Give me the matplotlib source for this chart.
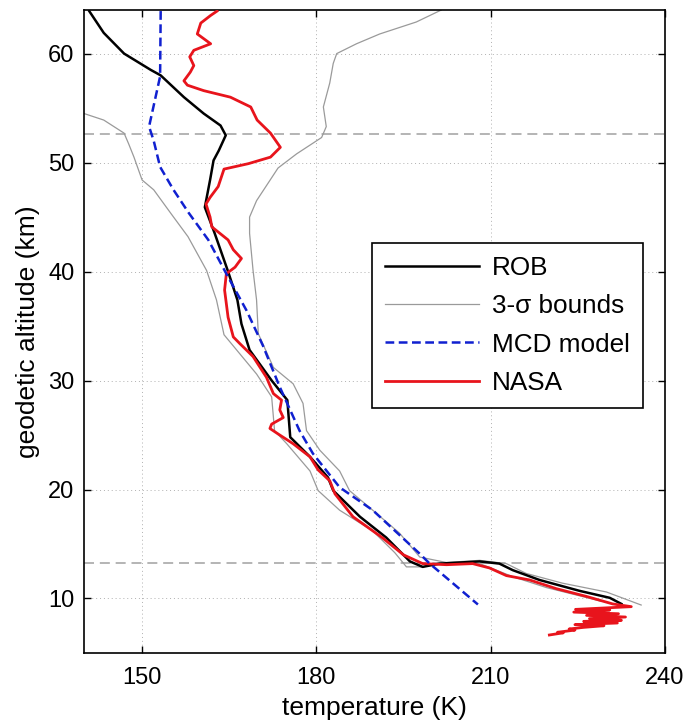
import numpy as np
import matplotlib.pyplot as plt
from matplotlib.lines import Line2D

plt.rcParams['font.family'] = ['Liberation Sans', 'DejaVu Sans']

# ROB retrieved profile (temperature K, altitude km)
rob_T = [140.9, 143.4, 146.9, 151.5, 153.2, 157.2, 160.6, 163.5, 164.4, 163.2, 162.3,
         161.7, 160.8, 162.5, 164.8, 166.4, 167.1, 168.5, 172.3, 175.0, 175.5, 178.9,
         182.0, 182.9, 187.5, 192.0, 196.1, 198.3, 201.2, 208.1, 211.5, 213.8, 218.4,
         225.3, 230.5, 232.5]
rob_z = [63.9, 61.9, 60.0, 58.5, 58.0, 56.0, 54.5, 53.4, 52.5, 51.1, 50.2,
         48.4, 45.9, 43.5, 40.0, 37.4, 35.2, 32.8, 30.0, 28.2, 24.8, 23.0,
         21.1, 19.9, 17.5, 15.6, 13.4, 12.9, 13.2, 13.4, 13.2, 12.6, 11.7,
         10.7, 10.06, 9.5]

# 3-sigma bounds, cold side
lo_T = [138.0, 140.0, 143.4, 146.9, 147.7, 148.6, 150.0, 152.0, 155.0, 157.9, 161.1,
        162.8, 164.1, 169.7, 172.3, 172.8, 174.9, 178.9, 180.3, 184.0, 189.7, 193.5,
        195.5, 198.3, 200.6, 208.1, 213.8, 219.6, 226.4, 229.0]
lo_z = [55.0, 54.5, 53.9, 52.7, 51.7, 50.5, 48.4, 47.5, 45.3, 43.2, 40.1,
        37.4, 34.2, 30.6, 28.5, 25.4, 24.2, 21.7, 19.9, 18.1, 16.2, 14.2,
        12.9, 12.9, 13.2, 13.2, 12.0, 11.0, 10.1, 9.75]

# 3-sigma bounds, warm side
hi_T = [201.5, 197.2, 190.9, 186.9, 183.5, 182.9, 182.3, 181.2, 181.7, 180.9, 176.6,
        173.4, 169.7, 168.5, 168.5, 169.1, 169.7, 170.0, 172.6, 176.0, 177.7, 178.3,
        180.6, 184.0, 185.7, 189.7, 194.3, 197.8, 202.4, 208.1, 212.7, 216.1, 222.4,
        229.9, 235.9]
hi_z = [64.0, 62.9, 61.8, 60.9, 60.0, 59.1, 57.3, 55.1, 53.3, 52.3, 50.8,
        49.5, 46.5, 45.0, 43.5, 40.1, 37.4, 34.3, 31.2, 29.7, 27.9, 25.4,
        23.6, 21.7, 19.9, 18.1, 16.0, 13.8, 13.3, 13.5, 13.2, 12.3, 11.4,
        10.6, 9.4]

# MCD model
mcd_T = [153.2, 153.1, 151.2, 152.0, 153.1, 155.4, 158.0, 161.4, 164.5, 168.0, 170.8,
         173.7, 177.1, 179.4, 184.0, 189.7, 197.8, 199.5, 207.8]
mcd_z = [63.9, 57.9, 53.3, 52.0, 49.6, 47.5, 45.4, 42.9, 39.8, 36.4, 33.2,
         29.4, 25.4, 23.3, 20.2, 18.1, 14.1, 13.2, 9.45]

# NASA profile
nasa_T = [162.9, 161.8, 160.1, 159.5, 161.8, 158.9, 158.2, 158.9, 158.3, 157.2, 157.8,
          160.6, 165.2, 168.7, 169.8, 172.1, 173.8, 172.1, 168.3, 164.1, 163.1, 161.7,
          161.0, 161.7, 162.0, 164.8, 165.7, 167.1, 166.0, 164.5, 164.2, 164.8, 165.7,
          166.8, 169.1, 171.4, 172.6, 174.0, 173.7, 174.3, 172.3, 172.0, 173.4, 176.0,
          178.9, 180.3, 182.3, 183.2, 186.3, 191.3, 195.0, 198.3, 202.4, 206.9, 209.8,
          212.7, 216.7, 221.3, 226.4, 231.0, 234.2,
          224.6, 230.5, 224.3, 232.0, 226.5, 233.2, 227.0, 232.5, 226.0, 231.8, 224.5,
          229.5, 226.0, 223.5, 224.5, 221.5, 222.5, 220.1]
nasa_z = [63.9, 63.5, 62.8, 61.8, 60.9, 60.3, 59.7, 58.9, 58.3, 57.5, 57.1,
          56.6, 56.0, 55.1, 53.9, 52.7, 51.4, 50.5, 49.9, 49.4, 47.8, 46.8,
          46.2, 45.0, 44.1, 42.9, 42.0, 41.2, 40.4, 39.8, 38.3, 35.8, 34.0,
          33.4, 32.2, 30.3, 28.8, 28.2, 27.3, 26.6, 26.0, 25.6, 25.1, 24.2,
          23.0, 21.8, 20.8, 19.6, 17.5, 15.6, 14.0, 13.2, 13.1, 13.2, 12.8,
          12.1, 11.7, 10.9, 10.2, 9.5, 9.25,
          9.0, 8.95, 8.75, 8.6, 8.45, 8.3, 8.15, 8.0, 7.9, 7.75, 7.6,
          7.5, 7.35, 7.2, 7.1, 6.9, 6.85, 6.65]

# reference altitudes (dashed)
ref_alt = [52.6, 13.3]

fig = plt.figure(figsize=(6.84, 7.24), dpi=100)
ax = fig.add_axes([0.1228, 0.0981, 0.8494, 0.8881])

for z in ref_alt:
    ax.axhline(z, color='#a8a8a8', lw=1.2, ls=(0, (6, 3.5)), zorder=1)

ax.plot(lo_T, lo_z, color='#9a9a9a', lw=0.9, zorder=2)
ax.plot(hi_T, hi_z, color='#9a9a9a', lw=0.9, zorder=2)
ax.plot(rob_T, rob_z, color='k', lw=1.8, zorder=3)
ax.plot(mcd_T, mcd_z, color='#1020d0', lw=1.8, ls=(0, (3.5, 1.8)), zorder=4)
ax.plot(nasa_T, nasa_z, color='#e8141c', lw=2.0, zorder=3)

ax.set_xlim(140, 240)
ax.set_ylim(5, 64)
ax.set_xticks([150, 180, 210, 240])
ax.set_yticks([10, 20, 30, 40, 50, 60])
ax.grid(True, ls=(0, (1, 3)), color='#b0b0b0', lw=0.7)
ax.tick_params(direction='in', top=True, right=True, length=5, width=1,
               labelsize=17)
ax.tick_params(axis='x', pad=10)
ax.tick_params(axis='y', pad=7)
for s in ax.spines.values():
    s.set_linewidth(1.2)

ax.set_xlabel('temperature (K)', fontsize=19, labelpad=5)
ax.set_ylabel('geodetic altitude (km)', fontsize=19, labelpad=6)

handles = [Line2D([], [], color='k', lw=1.8),
           Line2D([], [], color='#9a9a9a', lw=0.9),
           Line2D([], [], color='#1020d0', lw=1.8, ls=(0, (3.5, 1.8))),
           Line2D([], [], color='#e8141c', lw=2.0)]
labels = ['ROB', '3-σ bounds', 'MCD model', 'NASA']
leg = ax.legend(handles, labels, loc='upper right', bbox_to_anchor=(0.962, 0.638),
                fontsize=18.8, handlelength=3.6, handletextpad=0.5, labelspacing=0.55,
                borderpad=0.5, fancybox=False, framealpha=1, edgecolor='k',
                borderaxespad=0)
leg.get_frame().set_linewidth(1.2)

fig.savefig('out.png', dpi=100)
